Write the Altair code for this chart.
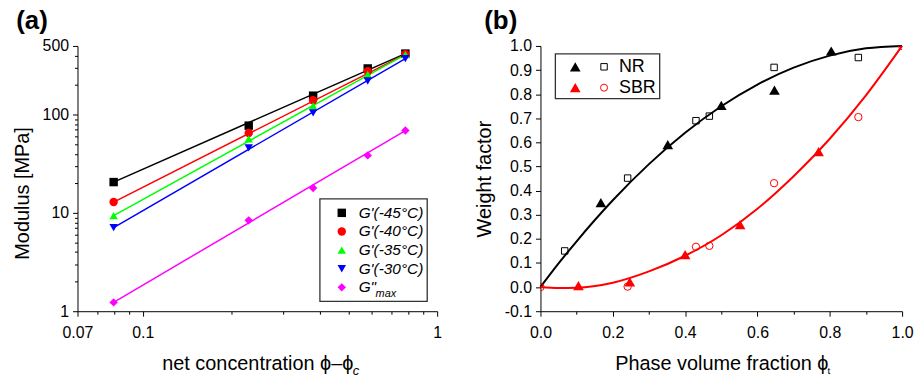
import altair as alt
import pandas as pd

FONT = "Liberation Sans"

# ---------------- Panel (a) data ----------------
CONC = [0.0796, 0.229, 0.379, 0.581, 0.78]
SERIES = ["G'(-45°C)", "G'(-40°C)", "G'(-35°C)", "G'(-30°C)", 'G"']
MOD_45 = [20.6, 77.3, 156, 295, 418]
MOD_40 = [12.9, 65.2, 140, 277, 411]
MOD_35 = [9.4, 56.8, 123, 257, 408]
MOD_30 = [7.1, 46.0, 104, 220, 372]
MOD_GMAX = [1.23, 8.4, 17.9, 38.5, 68.9]
COLORS_A = ["#000000", "#ff0000", "#00ff00", "#0000ff", "#ff00ff"]
SHAPES_A = ["square", "circle", "triangle-up", "triangle-down", "diamond"]
X_TICKS_A = [0.06, 0.07, 0.08, 0.09, 0.1, 0.2, 0.3, 0.4, 0.5, 0.6, 0.7, 0.8, 0.9, 1]
Y_TICKS_A = [1, 2, 3, 4, 5, 6, 7, 8, 9, 10, 20, 30, 40, 50, 60, 70, 80, 90,
             100, 200, 300, 400, 500]

# ---------------- Panel (b) data ----------------
NR_TRI_X = [0.167, 0.352, 0.5, 0.647, 0.804]
NR_TRI_Y = [0.35, 0.591, 0.754, 0.817, 0.979]
NR_SQ_X = [0.067, 0.241, 0.43, 0.467, 0.646, 0.879]
NR_SQ_Y = [0.15, 0.452, 0.69, 0.709, 0.911, 0.952]
SBR_TRI_X = [0.105, 0.247, 0.4, 0.552, 0.769]
SBR_TRI_Y = [0.006, 0.022, 0.135, 0.259, 0.562]
SBR_CIR_X = [0.241, 0.43, 0.467, 0.646, 0.879]
SBR_CIR_Y = [0.002, 0.167, 0.171, 0.431, 0.705]
SBR_END_X = [0.0, 1.0]
SBR_END_Y = [0.0, 1.0]
CURVE_X = [0.0, 0.05, 0.1, 0.2, 0.3, 0.4, 0.5, 0.6, 0.7, 0.8, 0.9, 1.0]
NR_CURVE = [0.0, 0.098, 0.19, 0.36, 0.51, 0.64, 0.75, 0.84, 0.91, 0.96, 0.99, 1.0]
SBR_CURVE = [0.0, -0.004, -0.003, 0.018, 0.065, 0.13, 0.215, 0.325, 0.46, 0.615, 0.795, 1.0]
X_TICKS_B = [0.0, 0.1, 0.2, 0.3, 0.4, 0.5, 0.6, 0.7, 0.8, 0.9, 1.0]
Y_TICKS_B = [-0.1, 0.0, 0.1, 0.2, 0.3, 0.4, 0.5, 0.6, 0.7, 0.8, 0.9, 1.0]
LEG_B = ["NR", "SBR"]

# ---------------- Panel (a) ----------------
rows, fit_rows = [], []
for s, vals in zip(SERIES, [MOD_45, MOD_40, MOD_35, MOD_30, MOD_GMAX]):
    for c, v in zip(CONC, vals):
        rows.append({"series": s, "conc": c, "mod": v})
    fit_rows.append({"fit": s, "conc": CONC[0], "mod": vals[0]})
    fit_rows.append({"fit": s, "conc": CONC[-1], "mod": vals[-1]})
df_a = pd.DataFrame(rows)
fit_a = pd.DataFrame(fit_rows)

major_x_a = "datum.value < 0.065 || datum.value == 0.1 || datum.value == 1"
x_a = alt.X(
    "conc:Q",
    scale=alt.Scale(type="log", domain=[0.06, 1], nice=False),
    axis=alt.Axis(
        values=X_TICKS_A,
        labelExpr="datum.value < 0.065 ? '0.07' : (datum.value == 0.1 ? '0.1' : (datum.value == 1 ? '1' : ''))",
        tickSize={"condition": {"test": major_x_a, "value": 5}, "value": 3},
        title="net concentration ϕ–ϕ",
        titlePadding=14,
        labelPadding=8,
        labelFlush=False,
        labelOverlap=False,
    ),
)
major_y_a = "datum.value == 1 || datum.value == 10 || datum.value == 100 || datum.value == 500"
y_a = alt.Y(
    "mod:Q",
    scale=alt.Scale(type="log", domain=[1, 500], nice=False),
    axis=alt.Axis(
        values=Y_TICKS_A,
        labelExpr="(datum.value == 1 || datum.value == 10 || datum.value == 100 || datum.value == 500) ? datum.value + '' : ''",
        tickSize={"condition": {"test": major_y_a, "value": 5}, "value": 3},
        title="Modulus [MPa]",
        titlePadding=10,
        titleY=148,
        labelPadding=4,
        labelFlush=False,
        labelOverlap=False,
    ),
)

lines_a = alt.Chart(fit_a).mark_line(strokeWidth=1.5).encode(
    x=x_a, y=y_a,
    stroke=alt.Stroke("fit:N", scale=alt.Scale(domain=SERIES, range=COLORS_A), legend=None),
    detail="fit:N",
)
points_a = alt.Chart(df_a).mark_point(filled=True, size=72, opacity=1).encode(
    x=x_a, y=y_a,
    color=alt.Color("series:N", scale=alt.Scale(domain=SERIES, range=COLORS_A), legend=None),
    shape=alt.Shape("series:N", scale=alt.Scale(domain=SERIES, range=SHAPES_A), legend=None),
)

# legend box for panel (a)
leg_a = [alt.Chart(pd.DataFrame({"t": ["box"]})).mark_rect(
    fill="white", stroke="#333333", strokeWidth=1.3
).encode(x=alt.value(244), x2=alt.value(352), y=alt.value(154), y2=alt.value(257))]
for i, (lab, col, shp) in enumerate(zip(SERIES, COLORS_A, SHAPES_A)):
    ypix = 168 + 18.75 * i
    d = pd.DataFrame({"t": [lab]})
    leg_a.append(alt.Chart(d).mark_point(shape=shp, filled=True, color=col, size=72, opacity=1)
                 .encode(x=alt.value(266), y=alt.value(ypix)))
    leg_a.append(alt.Chart(d).mark_text(font=FONT, fontSize=15.5, fontStyle="italic", align="left",
                                        baseline="middle", color="black")
                 .encode(x=alt.value(283), y=alt.value(ypix), text="t:N"))

sub_c = alt.Chart(pd.DataFrame({"t": ["c"]})).mark_text(
    font=FONT, fontSize=13, fontStyle="italic", align="left", baseline="alphabetic", color="black"
).encode(x=alt.value(277), y=alt.value(331), text="t:N")
sub_max = alt.Chart(pd.DataFrame({"t": ["max"]})).mark_text(
    font=FONT, fontSize=11, fontStyle="italic", align="left", baseline="middle", color="black"
).encode(x=alt.value(300), y=alt.value(250), text="t:N")

title_a = alt.TitleParams("(a)", anchor="start", frame="bounds", fontSize=26,
                          fontWeight="bold", font=FONT, dx=4, offset=4, color="black")
left = alt.layer(lines_a, points_a, *leg_a, sub_c, sub_max).properties(
    width=362, height=267, title=title_a
)

# ---------------- Panel (b) ----------------
x_b = alt.X(
    "x:Q",
    scale=alt.Scale(domain=[0, 1], nice=False),
    axis=alt.Axis(
        values=X_TICKS_B,
        labelExpr="round(datum.value * 10) % 2 == 0 ? format(datum.value, '.1f') : ''",
        tickSize={"condition": {"test": "round(datum.value * 10) % 2 == 0", "value": 5}, "value": 3},
        title="Phase volume fraction ϕ",
        titlePadding=14,
        labelPadding=8,
        labelFlush=False,
        labelOverlap=False,
    ),
)
y_b = alt.Y(
    "y:Q",
    scale=alt.Scale(domain=[-0.1, 1.0], nice=False, zero=False),
    axis=alt.Axis(
        values=Y_TICKS_B,
        labelExpr="replace(format(datum.value, '.1f'), '\u2212', '-')",
        tickSize=5,
        title="Weight factor",
        titlePadding=10,
        labelPadding=4,
        labelFlush=False,
        labelOverlap=False,
    ),
)

nr_curve = pd.DataFrame({"x": CURVE_X, "y": NR_CURVE})
sbr_curve = pd.DataFrame({"x": CURVE_X, "y": SBR_CURVE})
curve_nr = alt.Chart(nr_curve).mark_line(color="black", strokeWidth=2, interpolate="monotone").encode(x=x_b, y=y_b)
curve_sbr = alt.Chart(sbr_curve).mark_line(color="#ff0000", strokeWidth=2, interpolate="monotone").encode(x=x_b, y=y_b)

tri_nr = alt.Chart(pd.DataFrame({"x": NR_TRI_X, "y": NR_TRI_Y})).mark_point(
    shape="triangle-up", filled=True, color="black", size=115, opacity=1).encode(x=x_b, y=y_b)
tri_sbr = alt.Chart(pd.DataFrame({"x": SBR_TRI_X, "y": SBR_TRI_Y})).mark_point(
    shape="triangle-up", filled=True, color="#ff0000", size=115, opacity=1).encode(x=x_b, y=y_b)
sq_nr = alt.Chart(pd.DataFrame({"x": NR_SQ_X, "y": NR_SQ_Y})).mark_point(
    shape="square", filled=False, color="black", size=42, strokeWidth=1, opacity=1).encode(x=x_b, y=y_b)
cir_sbr = alt.Chart(pd.DataFrame({"x": SBR_CIR_X, "y": SBR_CIR_Y})).mark_point(
    shape="circle", filled=False, color="#ff0000", size=55, strokeWidth=1, opacity=1).encode(x=x_b, y=y_b)
cir_end = alt.Chart(pd.DataFrame({"x": SBR_END_X, "y": SBR_END_Y})).mark_point(
    shape="circle", filled=False, color="#ff0000", size=55, strokeWidth=1, opacity=1, clip=True).encode(x=x_b, y=y_b)

leg_box = alt.Chart(pd.DataFrame({"t": ["box"]})).mark_rect(
    fill="white", stroke="#333333", strokeWidth=1.3
).encode(x=alt.value(15), x2=alt.value(120), y=alt.value(8), y2=alt.value(53))
leg_items = []
for i, (lab, col, shp) in enumerate(zip(LEG_B, ["black", "#ff0000"], ["square", "circle"])):
    ypix = 21 + 21 * i
    d = pd.DataFrame({"t": [lab]})
    leg_items.append(alt.Chart(d).mark_point(shape="triangle-up", filled=True, color=col, size=115, opacity=1)
                     .encode(x=alt.value(35), y=alt.value(ypix)))
    leg_items.append(alt.Chart(d).mark_point(shape=shp, filled=False, color=col, size=42 if shp == "square" else 50,
                                             strokeWidth=1, opacity=1)
                     .encode(x=alt.value(64), y=alt.value(ypix)))
    leg_items.append(alt.Chart(d).mark_text(font=FONT, fontSize=18, align="left", baseline="middle", color="black")
                     .encode(x=alt.value(79), y=alt.value(ypix), text="t:N"))

sub_t = alt.Chart(pd.DataFrame({"t": ["t"]})).mark_text(
    font=FONT, fontSize=10, align="left", baseline="alphabetic", color="black"
).encode(x=alt.value(289), y=alt.value(330), text="t:N")

title_b = alt.TitleParams("(b)", anchor="start", frame="bounds", fontSize=26,
                          fontWeight="bold", font=FONT, dx=10, offset=4, color="black")
right = alt.layer(curve_nr, curve_sbr, tri_nr, tri_sbr, sq_nr, cir_sbr, cir_end,
                  leg_box, *leg_items, sub_t).properties(
    width=364, height=267, title=title_b
)

chart = alt.hconcat(left, right, spacing=32).properties(
    padding={"left": 12, "top": 7, "right": 5, "bottom": 2}
).configure_view(stroke=None).configure_axis(
    domainColor="black", tickColor="black", labelColor="black", titleColor="black",
    labelFont=FONT, titleFont=FONT, labelFontSize=16, titleFontSize=20,
    titleFontWeight="normal", grid=False, domainWidth=1, tickWidth=1,
)

chart.save("out.html", embed_options={"renderer": "svg", "actions": False})
